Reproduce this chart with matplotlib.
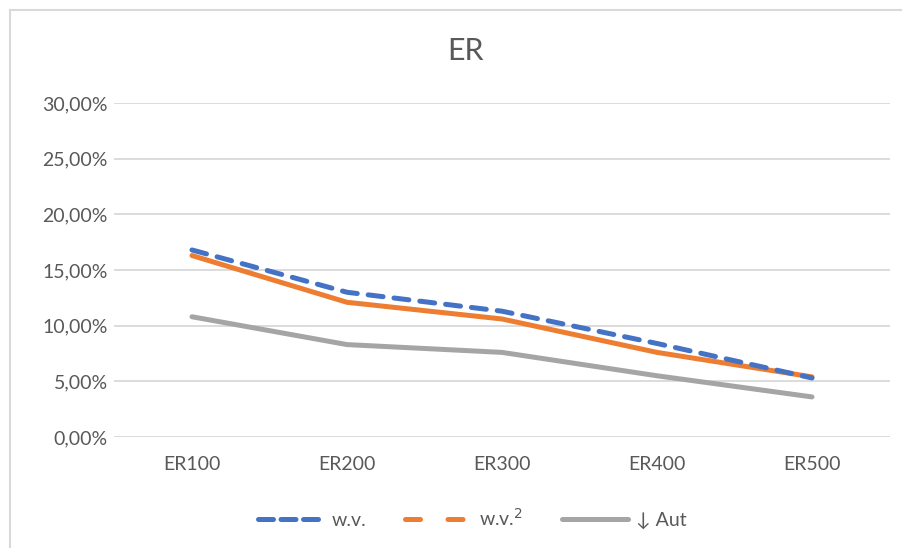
import matplotlib.pyplot as plt
from matplotlib.lines import Line2D
from matplotlib.patches import Rectangle
from matplotlib.ticker import FuncFormatter

# error rates per setting
categories = ['ER100', 'ER200', 'ER300', 'ER400', 'ER500']
wv = [0.168, 0.130, 0.113, 0.084, 0.053]
wv2 = [0.163, 0.121, 0.106, 0.076, 0.054]
aut = [0.108, 0.083, 0.076, 0.055, 0.036]

plt.rcParams['font.family'] = ['Lato', 'DejaVu Sans']

fig = plt.figure(figsize=(9.03, 5.48), dpi=100)

# outer chart frame
fig.patches.append(Rectangle((10.5 / 903, -0.05), 1.0, 1 - 10.5 / 548 + 0.05,
                             transform=fig.transFigure, fill=False,
                             edgecolor='#d9d9d9', linewidth=1.5))

ax = fig.add_axes([114.5 / 903, 111 / 548, 775 / 903, 334 / 548])

x = range(len(categories))
ax.plot(x, aut, color='#a5a5a5', lw=3.6, solid_capstyle='round', zorder=3)
ax.plot(x, wv2, color='#ed7d31', lw=3.6, solid_capstyle='round', zorder=4)
ax.plot(x, wv, color='#4472c4', lw=3.6, dashes=(3, 2.2),
        dash_capstyle='round', zorder=5)

ax.set_xlim(-0.5, 4.5)
ax.set_ylim(0, 0.30)
ax.set_yticks([0, 0.05, 0.10, 0.15, 0.20, 0.25, 0.30])
ax.yaxis.set_major_formatter(FuncFormatter(lambda v, p: f'{v * 100:.2f}%'.replace('.', ',')))
ax.set_xticks(list(x))
ax.set_xticklabels(categories)
ax.grid(axis='y', color='#d9d9d9', lw=1.3)
ax.set_axisbelow(True)
for s in ax.spines.values():
    s.set_visible(False)
ax.tick_params(length=0, labelsize=14, colors='#595959', pad=5)
ax.tick_params(axis='x', pad=14)

fig.text(0.516, 1 - 51 / 548, 'ER', ha='center', va='center',
         fontsize=22, color='#595959')

handles = [
    Line2D([], [], color='#4472c4', lw=3.6, dashes=(3, 1.5), dash_capstyle='round'),
    Line2D([], [], color='#ed7d31', lw=3.6, dashes=(3, 5.5), dash_capstyle='round'),
    Line2D([], [], color='#a5a5a5', lw=3.6, solid_capstyle='round'),
]
fig.legend(handles, ['w.v.', 'w.v.$^2$', '↓ Aut'], loc='center',
           bbox_to_anchor=(0.523, 1 - 518 / 548), ncol=3, frameon=False,
           fontsize=14, labelcolor='#595959', handlelength=3.4,
           columnspacing=2.0, handletextpad=0.4)

fig.savefig('out.png', dpi=100)
